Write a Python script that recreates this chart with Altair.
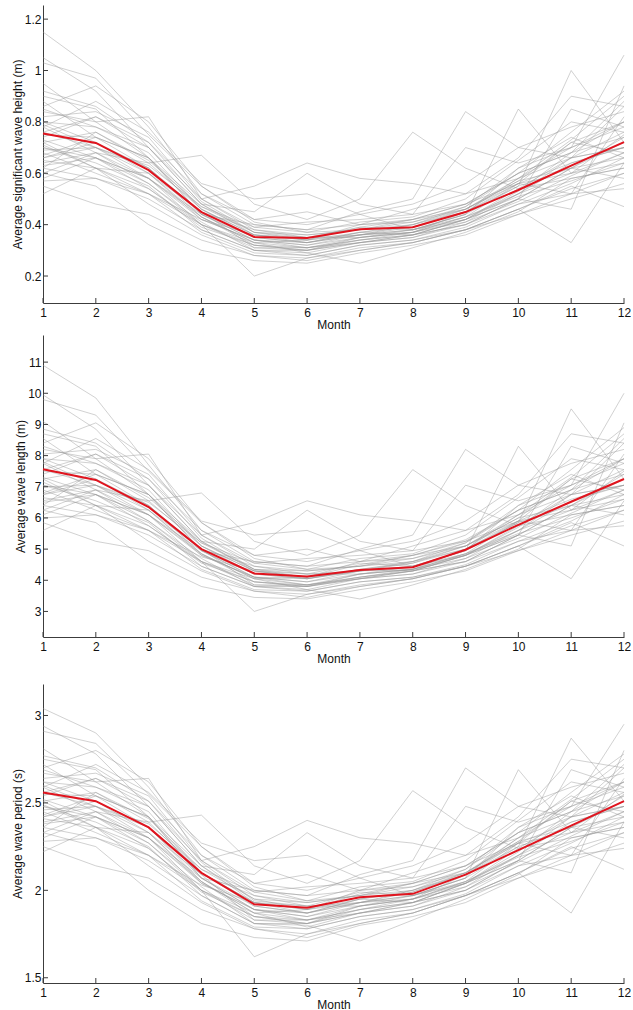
import altair as alt
import pandas as pd

MONTHS = list(range(1, 13))

# ---------- Panel 1: average significant wave height (m) ----------
HEIGHT_YEARS = [
    [1.15, 1.00, 0.78, 0.52, 0.40, 0.38, 0.40, 0.42, 0.48, 0.60, 0.68, 0.80],
    [1.05, 0.92, 0.70, 0.48, 0.36, 0.33, 0.36, 0.40, 0.45, 0.55, 0.62, 0.74],
    [1.03, 0.97, 0.75, 0.55, 0.42, 0.40, 0.44, 0.38, 0.42, 0.50, 0.85, 0.78],
    [0.95, 0.80, 0.82, 0.50, 0.38, 0.36, 0.38, 0.42, 0.46, 0.58, 0.73, 0.90],
    [0.90, 0.85, 0.66, 0.44, 0.34, 0.32, 0.36, 0.38, 0.44, 0.55, 1.00, 0.72],
    [0.85, 0.78, 0.68, 0.46, 0.36, 0.34, 0.37, 0.40, 0.47, 0.62, 0.70, 1.06],
    [0.82, 0.84, 0.74, 0.50, 0.55, 0.64, 0.58, 0.56, 0.52, 0.58, 0.66, 0.70],
    [0.80, 0.72, 0.60, 0.42, 0.34, 0.33, 0.37, 0.36, 0.42, 0.52, 0.60, 0.68],
    [0.78, 0.68, 0.64, 0.67, 0.48, 0.42, 0.50, 0.76, 0.62, 0.54, 0.58, 0.62],
    [0.76, 0.70, 0.58, 0.40, 0.32, 0.30, 0.34, 0.36, 0.40, 0.48, 0.56, 0.66],
    [0.75, 0.74, 0.62, 0.44, 0.35, 0.33, 0.36, 0.38, 0.44, 0.85, 0.60, 0.75],
    [0.73, 0.66, 0.56, 0.41, 0.30, 0.30, 0.33, 0.35, 0.40, 0.50, 0.62, 0.58],
    [0.72, 0.76, 0.65, 0.47, 0.37, 0.36, 0.38, 0.40, 0.46, 0.56, 0.52, 0.82],
    [0.70, 0.64, 0.55, 0.38, 0.30, 0.28, 0.32, 0.34, 0.38, 0.46, 0.33, 0.64],
    [0.69, 0.70, 0.60, 0.43, 0.33, 0.34, 0.36, 0.37, 0.43, 0.52, 0.64, 0.70],
    [0.68, 0.60, 0.52, 0.40, 0.20, 0.27, 0.30, 0.33, 0.38, 0.44, 0.50, 0.56],
    [0.66, 0.72, 0.62, 0.45, 0.38, 0.35, 0.35, 0.37, 0.45, 0.56, 0.72, 0.68],
    [0.65, 0.62, 0.48, 0.36, 0.28, 0.27, 0.31, 0.33, 0.38, 0.46, 0.54, 0.60],
    [0.64, 0.68, 0.58, 0.43, 0.32, 0.31, 0.34, 0.36, 0.42, 0.54, 0.66, 0.76],
    [0.62, 0.58, 0.50, 0.38, 0.30, 0.29, 0.25, 0.31, 0.37, 0.45, 0.58, 0.62],
    [0.62, 0.76, 0.64, 0.46, 0.36, 0.34, 0.39, 0.42, 0.48, 0.60, 0.68, 0.88],
    [0.60, 0.55, 0.40, 0.30, 0.26, 0.25, 0.29, 0.32, 0.36, 0.44, 0.52, 0.54],
    [0.58, 0.66, 0.58, 0.42, 0.34, 0.32, 0.35, 0.38, 0.44, 0.62, 0.74, 0.66],
    [0.55, 0.48, 0.44, 0.34, 0.28, 0.26, 0.30, 0.33, 0.38, 0.46, 0.55, 0.47],
    [0.52, 0.62, 0.54, 0.40, 0.33, 0.31, 0.34, 0.37, 0.42, 0.50, 0.62, 0.72],
    [0.80, 0.78, 0.70, 0.48, 0.45, 0.60, 0.48, 0.44, 0.70, 0.64, 0.70, 0.80],
    [0.74, 0.82, 0.72, 0.52, 0.42, 0.45, 0.40, 0.46, 0.52, 0.66, 0.90, 0.86],
    [0.88, 0.74, 0.66, 0.44, 0.34, 0.31, 0.33, 0.36, 0.40, 0.50, 0.46, 0.94],
    [0.78, 0.88, 0.76, 0.56, 0.50, 0.52, 0.44, 0.48, 0.56, 0.70, 0.78, 0.84],
    [0.70, 0.66, 0.58, 0.44, 0.40, 0.38, 0.45, 0.50, 0.84, 0.70, 0.66, 0.70],
    [0.84, 0.80, 0.66, 0.46, 0.35, 0.33, 0.37, 0.39, 0.45, 0.58, 0.70, 0.78],
    [0.71, 0.62, 0.60, 0.45, 0.31, 0.31, 0.35, 0.37, 0.41, 0.49, 0.59, 0.68],
    [0.79, 0.70, 0.62, 0.43, 0.33, 0.29, 0.33, 0.35, 0.41, 0.52, 0.66, 0.86],
    [0.67, 0.74, 0.66, 0.48, 0.37, 0.34, 0.40, 0.41, 0.46, 0.57, 0.62, 0.66],
    [0.60, 0.68, 0.56, 0.40, 0.31, 0.30, 0.33, 0.36, 0.42, 0.53, 0.68, 0.74],
    [0.76, 0.82, 0.70, 0.50, 0.39, 0.37, 0.38, 0.41, 0.47, 0.60, 0.76, 0.92],
    [0.63, 0.66, 0.54, 0.39, 0.32, 0.30, 0.35, 0.37, 0.43, 0.51, 0.57, 0.64],
    [0.86, 0.94, 0.80, 0.55, 0.41, 0.37, 0.41, 0.43, 0.50, 0.65, 0.80, 0.76],
    [0.72, 0.62, 0.52, 0.42, 0.36, 0.35, 0.39, 0.38, 0.43, 0.56, 0.64, 0.70],
    [0.57, 0.58, 0.52, 0.37, 0.29, 0.28, 0.32, 0.34, 0.39, 0.48, 0.52, 0.60],
    [0.92, 0.86, 0.72, 0.49, 0.37, 0.35, 0.36, 0.39, 0.46, 0.57, 0.72, 0.80],
    [0.66, 0.70, 0.63, 0.47, 0.39, 0.41, 0.42, 0.44, 0.48, 0.56, 0.60, 0.64],
]
HEIGHT_MEAN = [0.755, 0.718, 0.612, 0.449, 0.352, 0.348, 0.382, 0.390, 0.449, 0.535, 0.630, 0.721]
HEIGHT_TICKS = [0.2, 0.4, 0.6, 0.8, 1.0, 1.2]
HEIGHT_DOMAIN = [0.095, 1.255]

# ---------- Panel 2: average wave length (m) ----------
LENGTH_YEARS = [
    [10.9, 9.85, 7.7, 5.6, 4.6, 4.45, 4.6, 4.8, 5.3, 6.25, 6.9, 7.9],
    [9.95, 8.85, 7.05, 5.25, 4.3, 4.05, 4.3, 4.6, 5.0, 5.85, 6.4, 7.4],
    [9.8, 9.3, 7.5, 5.85, 4.8, 4.6, 4.95, 4.45, 4.8, 5.45, 8.3, 7.75],
    [9.1, 7.9, 8.05, 5.45, 4.45, 4.3, 4.45, 4.8, 5.1, 6.1, 7.3, 8.7],
    [8.7, 8.3, 6.75, 4.95, 4.1, 3.95, 4.3, 4.45, 4.95, 5.85, 9.5, 7.25],
    [8.3, 7.75, 6.9, 5.1, 4.3, 4.1, 4.35, 4.6, 5.2, 6.4, 7.05, 10.0],
    [8.05, 8.2, 7.4, 5.45, 5.85, 6.55, 6.1, 5.9, 5.6, 6.1, 6.75, 7.05],
    [7.9, 7.25, 6.25, 4.8, 4.1, 4.05, 4.35, 4.3, 4.8, 5.6, 6.25, 6.9],
    [7.75, 6.9, 6.55, 6.8, 5.25, 4.8, 5.45, 7.55, 6.4, 5.75, 6.1, 6.4],
    [7.55, 7.05, 6.1, 4.6, 3.95, 3.8, 4.1, 4.3, 4.6, 5.25, 5.9, 6.75],
    [7.5, 7.4, 6.4, 4.95, 4.2, 4.05, 4.3, 4.45, 4.95, 8.3, 6.25, 7.5],
    [7.3, 6.75, 5.9, 4.7, 3.8, 3.8, 4.05, 4.2, 4.6, 5.45, 6.4, 6.1],
    [7.25, 7.55, 6.65, 5.2, 4.35, 4.3, 4.45, 4.6, 5.1, 5.9, 5.6, 8.05],
    [7.05, 6.55, 5.85, 4.45, 3.8, 3.65, 3.95, 4.1, 4.45, 5.1, 4.05, 6.55],
    [7.0, 7.05, 6.25, 4.85, 4.05, 4.1, 4.3, 4.35, 4.85, 5.6, 6.55, 7.05],
    [6.9, 6.25, 5.6, 4.6, 3.0, 3.55, 3.8, 4.05, 4.45, 4.95, 5.45, 5.9],
    [6.75, 7.25, 6.4, 5.0, 4.45, 4.2, 4.2, 4.35, 5.0, 5.9, 7.25, 6.9],
    [6.65, 6.4, 5.25, 4.3, 3.65, 3.55, 3.85, 4.05, 4.45, 5.1, 5.75, 6.25],
    [6.55, 6.9, 6.1, 4.85, 3.95, 3.85, 4.1, 4.3, 4.8, 5.75, 6.75, 7.55],
    [6.4, 6.1, 5.45, 4.45, 3.8, 3.7, 3.4, 3.85, 4.35, 5.0, 6.1, 6.4],
    [6.4, 7.55, 6.55, 5.1, 4.3, 4.1, 4.5, 4.8, 5.25, 6.25, 6.9, 8.55],
    [6.25, 5.85, 4.6, 3.8, 3.45, 3.4, 3.7, 3.95, 4.3, 4.95, 5.6, 5.75],
    [6.1, 6.75, 6.1, 4.8, 4.1, 3.95, 4.2, 4.45, 4.95, 6.4, 7.4, 6.75],
    [5.85, 5.25, 4.95, 4.1, 3.65, 3.45, 3.8, 4.05, 4.45, 5.1, 5.85, 5.1],
    [5.6, 6.4, 5.75, 4.6, 4.05, 3.85, 4.1, 4.35, 4.8, 5.45, 6.4, 7.25],
    [7.9, 7.75, 7.05, 5.25, 5.0, 6.25, 5.25, 4.95, 7.05, 6.55, 7.05, 7.9],
    [7.4, 8.05, 7.25, 5.6, 4.8, 5.0, 4.6, 5.1, 5.6, 6.75, 8.7, 8.4],
    [8.55, 7.4, 6.75, 4.95, 4.1, 3.85, 4.05, 4.3, 4.6, 5.45, 5.1, 9.05],
    [7.75, 8.55, 7.55, 5.9, 5.45, 5.6, 4.95, 5.25, 5.9, 7.05, 7.75, 8.2],
    [7.05, 6.75, 6.1, 4.95, 4.6, 4.45, 5.0, 5.45, 8.2, 7.05, 6.75, 7.05],
    [8.2, 7.9, 6.75, 5.1, 4.2, 4.05, 4.35, 4.55, 5.0, 6.1, 7.05, 7.75],
    [7.15, 6.4, 6.25, 5.0, 3.85, 3.85, 4.2, 4.35, 4.7, 5.35, 6.15, 6.9],
    [7.8, 7.05, 6.4, 4.85, 4.05, 3.7, 4.05, 4.2, 4.7, 5.6, 6.75, 8.4],
    [6.8, 7.4, 6.75, 5.25, 4.35, 4.1, 4.6, 4.7, 5.1, 6.0, 6.4, 6.75],
    [6.25, 6.9, 5.9, 4.6, 3.85, 3.8, 4.05, 4.3, 4.8, 5.7, 6.9, 7.4],
    [7.55, 8.05, 7.05, 5.45, 4.55, 4.35, 4.45, 4.7, 5.2, 6.25, 7.55, 8.9],
    [6.5, 6.75, 5.75, 4.55, 3.95, 3.8, 4.2, 4.35, 4.85, 5.5, 6.0, 6.6],
    [8.4, 9.05, 7.9, 5.85, 4.7, 4.35, 4.7, 4.85, 5.45, 6.65, 7.9, 7.55],
    [7.25, 6.4, 5.6, 4.75, 4.3, 4.2, 4.55, 4.45, 4.85, 5.9, 6.6, 7.05],
    [6.0, 6.1, 5.6, 4.35, 3.7, 3.65, 3.95, 4.1, 4.5, 5.25, 5.6, 6.25],
    [8.85, 8.4, 7.25, 5.35, 4.35, 4.2, 4.3, 4.55, 5.1, 6.0, 7.25, 7.9],
    [6.75, 7.05, 6.5, 5.2, 4.55, 4.7, 4.8, 4.95, 5.25, 5.9, 6.25, 6.6],
]
LENGTH_MEAN = [7.56, 7.22, 6.35, 5.0, 4.22, 4.12, 4.33, 4.42, 4.98, 5.78, 6.52, 7.25]
LENGTH_TICKS = [3, 4, 5, 6, 7, 8, 9, 10, 11]
LENGTH_DOMAIN = [2.18, 11.87]

# ---------- Panel 3: average wave period (s) ----------
PERIOD_YEARS = [
    [3.04, 2.90, 2.59, 2.20, 2.00, 1.97, 2.00, 2.04, 2.14, 2.33, 2.45, 2.62],
    [2.94, 2.78, 2.48, 2.14, 1.93, 1.87, 1.93, 2.00, 2.09, 2.25, 2.36, 2.54],
    [2.91, 2.84, 2.55, 2.25, 2.04, 2.00, 2.07, 1.97, 2.04, 2.17, 2.69, 2.59],
    [2.81, 2.62, 2.64, 2.17, 1.97, 1.93, 1.97, 2.04, 2.10, 2.30, 2.52, 2.75],
    [2.75, 2.69, 2.42, 2.07, 1.89, 1.85, 1.93, 1.97, 2.07, 2.25, 2.87, 2.51],
    [2.69, 2.59, 2.45, 2.10, 1.93, 1.89, 1.95, 2.00, 2.12, 2.36, 2.48, 2.95],
    [2.64, 2.67, 2.54, 2.17, 2.25, 2.40, 2.30, 2.27, 2.20, 2.30, 2.42, 2.48],
    [2.62, 2.51, 2.33, 2.04, 1.89, 1.87, 1.95, 1.93, 2.04, 2.20, 2.33, 2.45],
    [2.59, 2.45, 2.39, 2.43, 2.14, 2.04, 2.17, 2.57, 2.36, 2.24, 2.30, 2.36],
    [2.56, 2.48, 2.30, 2.00, 1.85, 1.81, 1.89, 1.93, 2.00, 2.14, 2.27, 2.42],
    [2.55, 2.54, 2.36, 2.07, 1.91, 1.87, 1.93, 1.97, 2.07, 2.69, 2.33, 2.55],
    [2.52, 2.42, 2.27, 2.02, 1.81, 1.81, 1.87, 1.91, 2.00, 2.17, 2.36, 2.30],
    [2.51, 2.56, 2.41, 2.12, 1.95, 1.93, 1.97, 2.00, 2.10, 2.27, 2.20, 2.64],
    [2.48, 2.39, 2.25, 1.97, 1.81, 1.78, 1.85, 1.89, 1.97, 2.10, 1.87, 2.39],
    [2.46, 2.48, 2.33, 2.05, 1.87, 1.89, 1.93, 1.95, 2.05, 2.20, 2.39, 2.48],
    [2.45, 2.33, 2.20, 2.00, 1.62, 1.75, 1.81, 1.87, 1.97, 2.07, 2.17, 2.27],
    [2.42, 2.51, 2.36, 2.09, 1.97, 1.91, 1.91, 1.95, 2.09, 2.27, 2.51, 2.45],
    [2.41, 2.36, 2.14, 1.93, 1.78, 1.75, 1.83, 1.87, 1.97, 2.10, 2.24, 2.33],
    [2.39, 2.45, 2.30, 2.05, 1.85, 1.83, 1.89, 1.93, 2.04, 2.24, 2.42, 2.56],
    [2.36, 2.30, 2.17, 1.97, 1.81, 1.80, 1.71, 1.83, 1.95, 2.09, 2.30, 2.36],
    [2.36, 2.56, 2.39, 2.10, 1.93, 1.89, 1.98, 2.04, 2.14, 2.33, 2.45, 2.72],
    [2.33, 2.25, 2.00, 1.81, 1.73, 1.71, 1.80, 1.85, 1.93, 2.07, 2.20, 2.24],
    [2.30, 2.42, 2.30, 2.04, 1.89, 1.85, 1.91, 1.97, 2.07, 2.36, 2.54, 2.42],
    [2.25, 2.14, 2.07, 1.89, 1.78, 1.73, 1.81, 1.87, 1.97, 2.10, 2.25, 2.12],
    [2.22, 2.36, 2.24, 2.00, 1.87, 1.83, 1.89, 1.95, 2.04, 2.17, 2.36, 2.51],
    [2.62, 2.59, 2.48, 2.14, 2.09, 2.33, 2.14, 2.07, 2.48, 2.39, 2.48, 2.62],
    [2.54, 2.64, 2.51, 2.20, 2.04, 2.09, 2.00, 2.10, 2.20, 2.42, 2.75, 2.70],
    [2.72, 2.54, 2.42, 2.07, 1.89, 1.83, 1.87, 1.93, 2.00, 2.17, 2.10, 2.80],
    [2.59, 2.72, 2.56, 2.27, 2.17, 2.20, 2.07, 2.14, 2.27, 2.48, 2.59, 2.67],
    [2.48, 2.42, 2.30, 2.07, 2.00, 1.97, 2.09, 2.17, 2.70, 2.48, 2.42, 2.48],
    [2.67, 2.62, 2.42, 2.10, 1.91, 1.87, 1.95, 1.99, 2.09, 2.30, 2.48, 2.59],
    [2.49, 2.36, 2.33, 2.09, 1.83, 1.83, 1.91, 1.95, 2.02, 2.16, 2.31, 2.45],
    [2.60, 2.48, 2.36, 2.05, 1.87, 1.79, 1.87, 1.91, 2.02, 2.20, 2.42, 2.70],
    [2.43, 2.54, 2.42, 2.14, 1.95, 1.89, 2.00, 2.02, 2.10, 2.28, 2.36, 2.42],
    [2.33, 2.45, 2.27, 2.00, 1.83, 1.81, 1.87, 1.93, 2.04, 2.22, 2.45, 2.54],
    [2.56, 2.64, 2.48, 2.17, 1.99, 1.94, 1.97, 2.02, 2.12, 2.33, 2.56, 2.78],
    [2.38, 2.42, 2.24, 1.99, 1.85, 1.81, 1.91, 1.95, 2.05, 2.19, 2.28, 2.39],
    [2.70, 2.80, 2.62, 2.25, 2.02, 1.94, 2.02, 2.05, 2.17, 2.40, 2.62, 2.56],
    [2.51, 2.36, 2.20, 2.03, 1.93, 1.91, 1.99, 1.97, 2.05, 2.27, 2.39, 2.48],
    [2.28, 2.30, 2.20, 1.94, 1.79, 1.78, 1.85, 1.89, 1.98, 2.14, 2.20, 2.33],
    [2.77, 2.70, 2.51, 2.16, 1.94, 1.91, 1.93, 1.99, 2.10, 2.28, 2.51, 2.62],
    [2.42, 2.48, 2.38, 2.12, 1.99, 2.02, 2.04, 2.07, 2.14, 2.27, 2.33, 2.39],
]
PERIOD_MEAN = [2.56, 2.51, 2.36, 2.10, 1.92, 1.90, 1.96, 1.98, 2.09, 2.23, 2.37, 2.51]
PERIOD_TICKS = [1.5, 2.0, 2.5, 3.0]
PERIOD_DOMAIN = [1.47, 3.18]

FONT = "Liberation Sans"
AXIS_COLOR = "#3c3c3c"
PLOT_W = 581


def long_table(lines):
    rows = []
    for i, line in enumerate(lines):
        for m, v in zip(MONTHS, line):
            rows.append({"year": i, "month": m, "value": v})
    return pd.DataFrame(rows)


def panel(lines, mean, domain, ticks, ytitle, h):
    xs = alt.Scale(domain=[1, 12], nice=False, zero=False)
    ys = alt.Scale(domain=domain, nice=False, zero=False)
    xax = alt.Axis(values=MONTHS, title="Month", tickSize=0, labelPadding=4,
                   titlePadding=1, grid=False, domainColor=AXIS_COLOR,
                   labelColor="#111", titleColor="#111", labelFontSize=12,
                   titleFontSize=12, titleFontWeight="normal", labelFlush=False,
                   labelOverlap=False, labelFont=FONT, titleFont=FONT)
    yax = alt.Axis(values=ticks, title=ytitle, tickSize=0, labelPadding=2,
                   titlePadding=0, format="~g", grid=False, domainColor=AXIS_COLOR,
                   labelColor="#111", titleColor="#111", labelFontSize=12,
                   titleFontSize=12, titleFontWeight="normal", labelFlush=False,
                   labelOverlap=False, labelFont=FONT, titleFont=FONT)
    x = alt.X("month:Q", scale=xs, axis=xax)
    y = alt.Y("value:Q", scale=ys, axis=yax)

    gray = alt.Chart(long_table(lines)).mark_line(
        color="#9a9a9a", opacity=0.45, strokeWidth=1
    ).encode(x=x, y=y, detail="year:N")

    red = alt.Chart(pd.DataFrame({"month": MONTHS, "value": mean})).mark_line(
        color="#e0141e", strokeWidth=2
    ).encode(x=x, y=y)

    ytick = alt.Chart(pd.DataFrame({"value": ticks})).mark_rule(
        color=AXIS_COLOR, strokeWidth=1
    ).encode(y=y, x=alt.value(0), x2=alt.value(5))

    xtick = alt.Chart(pd.DataFrame({"month": MONTHS})).mark_rule(
        color=AXIS_COLOR, strokeWidth=1
    ).encode(x=x, y=alt.value(h), y2=alt.value(h - 5))

    return alt.layer(gray, red, ytick, xtick).properties(width=PLOT_W, height=h)


def spacer(h):
    return alt.Chart(pd.DataFrame({"v": [0]})).mark_point(size=0, opacity=0).encode(
        x=alt.X("v:Q", axis=None), y=alt.Y("v:Q", axis=None)
    ).properties(width=PLOT_W, height=h)


p1 = panel(HEIGHT_YEARS, HEIGHT_MEAN, HEIGHT_DOMAIN, HEIGHT_TICKS,
           "Average significant wave height (m)", 298)
p2 = panel(LENGTH_YEARS, LENGTH_MEAN, LENGTH_DOMAIN, LENGTH_TICKS,
           "Average wave length (m)", 302)
p3 = panel(PERIOD_YEARS, PERIOD_MEAN, PERIOD_DOMAIN, PERIOD_TICKS,
           "Average wave period (s)", 299)

chart = (
    alt.vconcat(p1, p2, spacer(10), p3, spacing=5)
    .properties(
        padding={"left": 11, "top": 5, "right": 0, "bottom": 0},
        background="white",
    )
    .configure(font=FONT)
    .configure_view(strokeWidth=0, stroke="transparent")
)

chart.save("out.html", embed_options={"renderer": "svg", "actions": False})
